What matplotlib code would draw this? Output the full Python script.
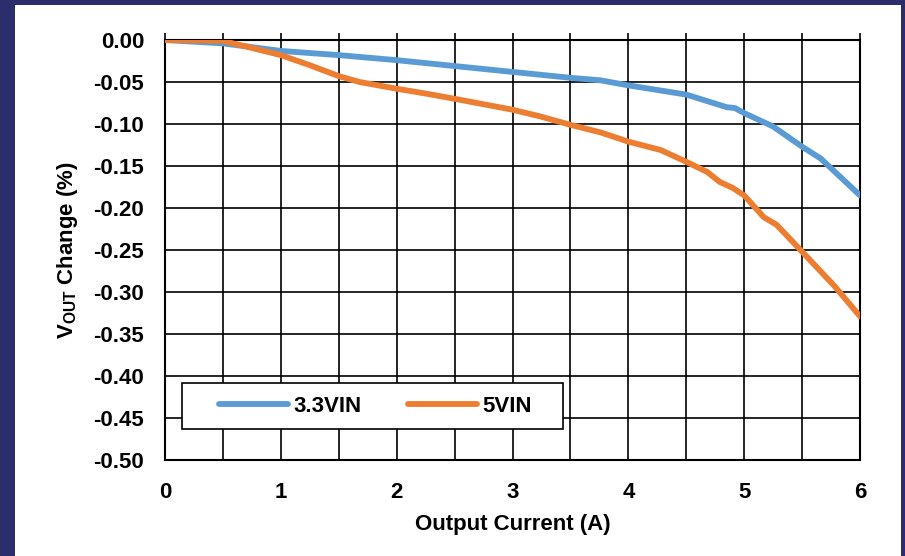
import matplotlib
matplotlib.use("Agg")
import matplotlib.pyplot as plt
from matplotlib.patches import Rectangle

plt.rcParams['font.family'] = ['Liberation Sans', 'DejaVu Sans']
plt.rcParams['mathtext.fontset'] = 'custom'
plt.rcParams['mathtext.rm'] = 'Liberation Sans:bold'
plt.rcParams['mathtext.bf'] = 'Liberation Sans:bold'

# current (A) and Vout change (%)
i_33 = [0, 0.5, 1.0, 1.5, 2.0, 2.5, 3.0, 3.5, 3.76, 4.0, 4.5, 4.85, 4.92, 5.0, 5.25, 5.5, 5.66, 6.0]
v_33 = [0, -0.004, -0.013, -0.018, -0.024, -0.031, -0.038, -0.045, -0.048, -0.054, -0.065,
        -0.080, -0.081, -0.087, -0.103, -0.127, -0.141, -0.185]

i_5 = [0, 0.5, 1.0, 1.25, 1.5, 1.68, 2.0, 2.26, 2.5, 3.0, 3.24, 3.5, 3.76, 4.0, 4.28, 4.5,
       4.68, 4.79, 4.9, 5.0, 5.17, 5.28, 5.5, 5.78, 6.0]
v_5 = [0, -0.001, -0.018, -0.030, -0.043, -0.050, -0.058, -0.064, -0.070, -0.083, -0.091,
       -0.101, -0.110, -0.121, -0.131, -0.145, -0.157, -0.169, -0.176, -0.185, -0.211,
       -0.220, -0.252, -0.293, -0.329]

x_ticks = [0, 1, 2, 3, 4, 5, 6]
y_ticks = [0.00, -0.05, -0.10, -0.15, -0.20, -0.25, -0.30, -0.35, -0.40, -0.45, -0.50]

fig = plt.figure(figsize=(9.05, 5.56), dpi=100)
fig.patch.set_facecolor('#2b2d6c')
fig.patches.append(Rectangle((15/905, 0), 886/905, 551/556, transform=fig.transFigure,
                             facecolor='white', edgecolor='none', zorder=-5))

ax = fig.add_axes([165/905, 1 - 460/556, 695/905, 420/556])
ax.plot(i_33, v_33, color='#5b9bd5', lw=4.2, label='3.3VIN', solid_capstyle='round', zorder=3)
ax.plot(i_5, v_5, color='#ed7d31', lw=4.2, label='5VIN', solid_capstyle='round', zorder=3)

ax.set_xlim(0, 6)
ax.set_ylim(-0.5, 0)
ax.set_xticks(x_ticks)
ax.set_xticks([x + 0.5 for x in x_ticks[:-1]], minor=True)
ax.set_yticks(y_ticks)
ax.set_xticklabels([str(x) for x in x_ticks], fontsize=16, fontweight='bold')
ax.set_yticklabels(['%.2f' % y for y in y_ticks], fontsize=16, fontweight='bold')
ax.grid(True, which='both', color='black', lw=1.2)
ax.set_axisbelow(True)
ax.tick_params(axis='both', which='both', length=0)
ax.tick_params(axis='x', which='both', top=True, length=5, width=1.2, direction='out', pad=11)
ax.tick_params(axis='x', which='both', bottom=False)
ax.tick_params(axis='y', pad=15)
for s in ax.spines.values():
    s.set_color('black')
    s.set_linewidth(1.5)

ax.set_xlabel('Output Current (A)', fontsize=16, fontweight='bold', labelpad=8)
ax.set_ylabel(r'$\mathregular{V_{OUT}}$ Change (%)', fontsize=16, fontweight='bold', labelpad=10)

# legend box drawn separately so the inner spacing can follow the reference
ax.add_patch(Rectangle((17/695, (460-429)/420), (563-182)/695, 46/420, transform=ax.transAxes,
                       facecolor='white', edgecolor='black', lw=1.2, zorder=4))
leg = ax.legend(loc='center left', bbox_to_anchor=((219-165)/695, (460-406)/420), ncol=2,
                frameon=False, handlelength=3.1, handletextpad=0.25, columnspacing=2.1,
                borderpad=0, borderaxespad=0, prop={'size': 16, 'weight': 'bold'})
leg.set_zorder(5)

fig.savefig('out.png', dpi=100, facecolor=fig.get_facecolor())
